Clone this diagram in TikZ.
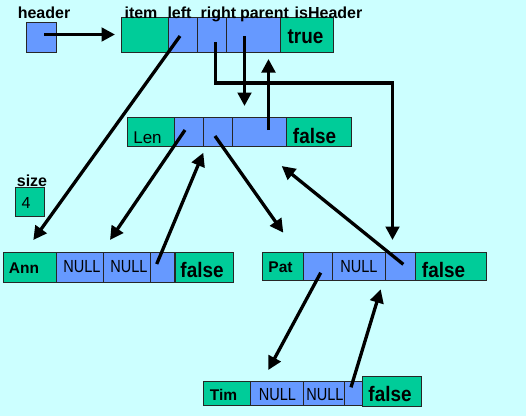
\documentclass[tikz,border=0pt]{standalone}
\usepackage{fontspec}
\setmainfont{Liberation Sans}
\newfontfamily\nullfam[FakeStretch=0.83]{Liberation Sans}
\newfontfamily\falsefam[FakeStretch=0.9]{Liberation Sans}
\usetikzlibrary{arrows.meta}
\definecolor{bg}{HTML}{CCFFFF}
\definecolor{grn}{HTML}{00CC99}
\definecolor{blu}{HTML}{6699FF}
\tikzset{
  cellbox/.style={draw=black!85, line width=0.7pt, inner sep=0pt, outer sep=0pt},
  gcell/.style={cellbox, fill=grn},
  bcell/.style={cellbox, fill=blu},
  txt/.style={anchor=base, inner sep=0pt},
  bold16/.style={txt, font=\fontsize{16}{18}\selectfont\bfseries},
  bold15/.style={txt, font=\fontsize{15.5}{18}\selectfont\bfseries},
  bigbold/.style={txt, font=\falsefam\fontsize{21}{24}\selectfont\bfseries},
  nulltxt/.style={txt, font=\nullfam\fontsize{17.5}{20}\selectfont},
  regtxt/.style={txt, font=\fontsize{17}{19}\selectfont},
  arr/.style={line width=3.3pt, -{Triangle[length=13.5pt,width=13.5pt]}},
}
\begin{document}
\begin{tikzpicture}[x=1pt,y=-1pt]
\useasboundingbox (0,0) rectangle (526,416);
\fill[bg] (0,0) rectangle (526,416);

% header
\node[bcell, minimum width=30pt, minimum height=30pt] (hdr) at (41.7,37.3) {};
\node[bold16] (hdrT) at (44,18) {header};

% top (header node)
\node[gcell, minimum width=47pt, minimum height=35pt] (topI) at (144.5,34.5) {};
\node[bcell, minimum width=29pt, minimum height=35pt] (topL) at (182.5,34.5) {};
\node[bcell, minimum width=29.5pt, minimum height=35pt] (topR) at (211.75,34.5) {};
\node[bcell, minimum width=53.5pt, minimum height=35pt] (topP) at (253.25,34.5) {};
\node[gcell, minimum width=53pt, minimum height=35pt] (topH) at (306.5,34.5) {};
\node[bold16] (lItem) at (141,18) {item};
\node[bold16] (lLeft) at (179.5,18) {left};
\node[bold16] (lRight) at (218.5,18) {right};
\node[bold16] (lParent) at (264.5,18) {parent};
\node[bold16] (lIsH) at (328.5,18) {isHeader};
\node[txt, font=\falsefam\fontsize{21}{24}\selectfont\bfseries] (topHT) at (305.5,43) {true};

% Len
\node[gcell, minimum width=47pt, minimum height=29pt] (lenI) at (150.5,131.5) {};
\node[bcell, minimum width=29pt, minimum height=29pt] (lenL) at (188.5,131.5) {};
\node[bcell, minimum width=29pt, minimum height=29pt] (lenR) at (217.5,131.5) {};
\node[bcell, minimum width=54pt, minimum height=29pt] (lenP) at (259,131.5) {};
\node[gcell, minimum width=65pt, minimum height=29pt] (lenH) at (318.5,131.5) {};
\node[regtxt] (lenIT) at (147.5,143) {Len};
\node[bigbold] (lenHT) at (314.5,143) {false};

% size
\node[bold16] (sizeT) at (32,186.5) {size};
\node[gcell, minimum width=29.3pt, minimum height=28.7pt] (sizeB) at (29.65,201.65) {};
\node[txt, font=\fontsize{16}{19}\selectfont] (sizeV) at (26,208) {4};

% Ann
\node[gcell, minimum width=53.4pt, minimum height=29.3pt] (annI) at (30,267.35) {};
\node[bcell, minimum width=46.6pt, minimum height=29.3pt] (annL) at (80,267.35) {};
\node[bcell, minimum width=46.7pt, minimum height=29.3pt] (annR) at (126.65,267.35) {};
\node[bcell, minimum width=24pt, minimum height=29.3pt] (annP) at (162,267.35) {};
\node[gcell, minimum width=58.3pt, minimum height=29.3pt] (annH) at (204.15,267.35) {};
\node[bold15] (annIT) at (24,273) {Ann};
\node[nulltxt] (annLT) at (82,272.7) {NULL};
\node[nulltxt] (annRT) at (129,272.7) {NULL};
\node[bigbold] (annHT) at (202,277) {false};

% Pat
\node[gcell, minimum width=41pt, minimum height=28pt] (patI) at (282.8,266.7) {};
\node[bcell, minimum width=29.4pt, minimum height=28pt] (patL) at (318,266.7) {};
\node[bcell, minimum width=53pt, minimum height=28pt] (patR) at (359.2,266.7) {};
\node[bcell, minimum width=30pt, minimum height=28pt] (patP) at (400.7,266.7) {};
\node[gcell, minimum width=71pt, minimum height=28pt] (patH) at (451.2,266.7) {};
\node[bold15] (patIT) at (280.5,272.7) {Pat};
\node[nulltxt] (patRT) at (359,272.7) {NULL};
\node[bigbold] (patHT) at (443.5,277) {false};

% Tim
\node[gcell, minimum width=46.7pt, minimum height=24.3pt] (timI) at (226.65,393.15) {};
\node[bcell, minimum width=53.3pt, minimum height=24.3pt] (timL) at (276.65,393.15) {};
\node[bcell, minimum width=41pt, minimum height=24.3pt] (timR) at (323.8,393.15) {};
\node[bcell, minimum width=18pt, minimum height=24.3pt] (timP) at (353.3,393.15) {};
\node[gcell, minimum width=59.4pt, minimum height=30pt] (timH) at (392,391.7) {};
\node[bold15] (timIT) at (223.5,400.7) {Tim};
\node[nulltxt] (timLT) at (277.5,400.7) {NULL};
\node[nulltxt] (timRT) at (325,400.7) {NULL};
\node[bigbold] (timHT) at (390,401.7) {false};

% arrow tips
\coordinate (tHdr) at (115,34.5);
\coordinate (tAnn) at (33.3,240);
\coordinate (cR) at (392.5,83);
\coordinate (tPat) at (392.5,240);
\coordinate (tLen) at (244.5,106);
\coordinate (tTop) at (268.5,59);
\coordinate (tAnnR) at (110,240);
\coordinate (tLenA) at (203.3,152.7);
\coordinate (tPatA) at (283.3,232.7);
\coordinate (tLenB) at (281.7,166);
\coordinate (tTim) at (268.3,370);
\coordinate (tPatB) at (380.7,289.3);

% arrows
\draw[arr] ([shift={(2.3,-2.8)}]hdr.center) -- (tHdr);
\draw[arr] ([shift={(-2.5,1.5)}]topL.center) -- (tAnn);
\draw[arr] ([shift={(3.75,7.5)}]topR.center) |- (cR) -- (tPat);
\draw[arr] ([shift={(-8.75,1.5)}]topP.center) -- (tLen);
\draw[arr] ([shift={(9.5,-1.5)}]lenP.center) -- (tTop);
\draw[arr] ([shift={(-3.5,-1.5)}]lenL.center) -- (tAnnR);
\draw[arr] ([shift={(-5.3,-3.35)}]annP.center) -- (tLenA);
\draw[arr] ([shift={(-2.5,4.5)}]lenR.center) -- (tPatA);
\draw[arr] ([shift={(2.6,-2.4)}]patP.center) -- (tLenB);
\draw[arr] ([shift={(2.7,6)}]patL.center) -- (tTim);
\draw[arr] ([shift={(-2.3,-5.85)}]timP.center) -- (tPatB);
\end{tikzpicture}
\end{document}
